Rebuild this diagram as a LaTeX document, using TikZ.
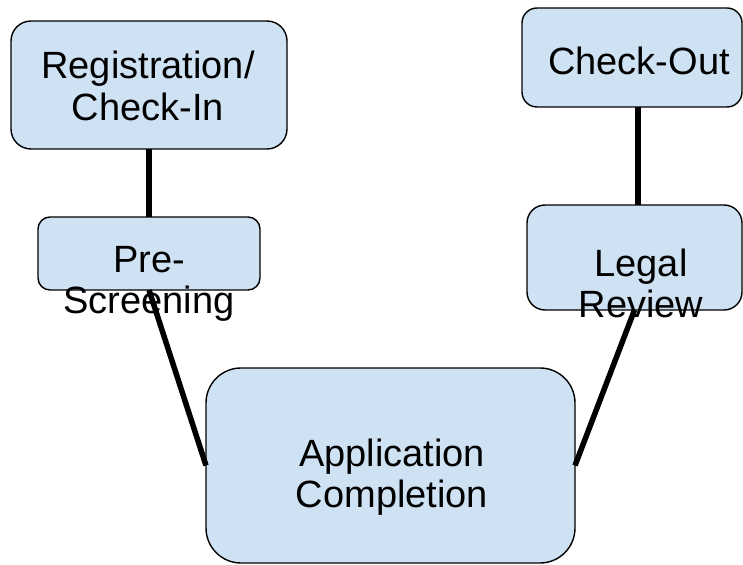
\documentclass[tikz,border=0pt]{standalone}
\usepackage{fontspec}
\setmainfont{Liberation Sans}
\definecolor{boxblue}{HTML}{CFE2F3}
\begin{document}
\begin{tikzpicture}[x=1pt,y=-1pt,
  box/.style={draw=black, line width=1.4pt, fill=boxblue, inner sep=0pt, outer sep=0pt},
  lbl/.style={anchor=base, inner sep=0pt, font=\fontsize{38}{41.5}\selectfont},
  conn/.style={draw=black, line width=5.5pt}]
\useasboundingbox (0,0) rectangle (743,564);
% boxes
\node[box, rounded corners=20pt, minimum width=276pt, minimum height=128pt] (reg) at (149,85) {};
\node[box, rounded corners=12pt, minimum width=222pt, minimum height=73pt] (pre) at (149,253.5) {};
\node[box, rounded corners=15pt, minimum width=220pt, minimum height=99pt] (co) at (632,57.5) {};
\node[box, rounded corners=18pt, minimum width=215pt, minimum height=105pt] (legal) at (634.5,257.5) {};
\node[box, rounded corners=35pt, minimum width=369pt, minimum height=195pt] (app) at (390.5,465.5) {};
% labels
\node[lbl] (regt) at (148,79) {\begin{tabular}[t]{@{}c@{}}Registration/\\Check-In\end{tabular}};
\node[lbl] (pret) at (149,272) {\begin{tabular}[t]{@{}c@{}}Pre-\\Screening\end{tabular}};
\node[lbl] (cot) at (639,75) {Check-Out};
\node[lbl] (legalt) at (641,276) {\begin{tabular}[t]{@{}c@{}}Legal\\Review\end{tabular}};
\node[lbl] (appt) at (392,466) {\begin{tabular}[t]{@{}c@{}}Application\\Completion\end{tabular}};
% connectors
\draw[conn] (reg.south) -- (pre.north);
\draw[conn] ([xshift=6pt]co.south) -- ([xshift=3.5pt]legal.north);
\draw[conn] (pre.south) -- (app.west);
\draw[conn] (legal.south) -- (app.east);
\end{tikzpicture}
\end{document}
